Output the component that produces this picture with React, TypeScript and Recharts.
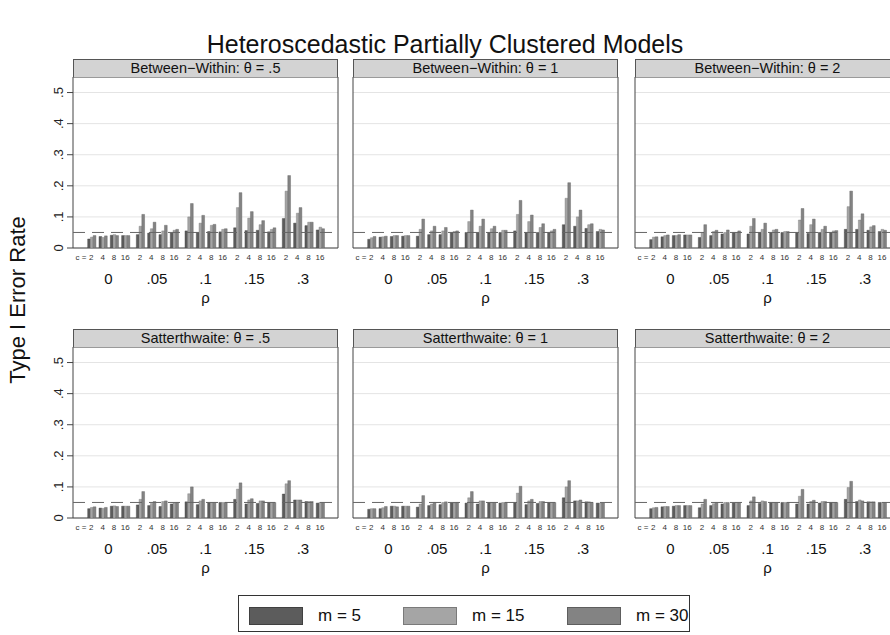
import React from 'react';
import { BarChart, Bar, XAxis, YAxis, CartesianGrid, ReferenceLine, ReferenceArea } from 'recharts';

// ---- categories / labels ----
const rhoLabels = ['0', '.05', '.1', '.15', '.3'];
const cLabels = ['2', '4', '8', '16'];
const yTicks = [0, 0.1, 0.2, 0.3, 0.4, 0.5];
const seriesNames = ['m = 5', 'm = 15', 'm = 30'];
const panelTitles = [
  'Between\u2212Within: \u03B8 = .5',
  'Between\u2212Within: \u03B8 = 1',
  'Between\u2212Within: \u03B8 = 2',
  'Satterthwaite: \u03B8 = .5',
  'Satterthwaite: \u03B8 = 1',
  'Satterthwaite: \u03B8 = 2',
];

// ---- values: order = rho (0,.05,.1,.15,.3) x c (2,4,8,16) ----
const bw05_m5 = [0.029, 0.037, 0.041, 0.040, 0.043, 0.048, 0.043, 0.048, 0.055, 0.050, 0.053, 0.052, 0.065, 0.056, 0.057, 0.052, 0.095, 0.080, 0.072, 0.058];
const bw05_m15 = [0.035, 0.034, 0.043, 0.040, 0.070, 0.062, 0.055, 0.057, 0.100, 0.080, 0.073, 0.060, 0.130, 0.096, 0.075, 0.060, 0.183, 0.112, 0.083, 0.067];
const bw05_m30 = [0.040, 0.039, 0.040, 0.040, 0.108, 0.083, 0.073, 0.060, 0.143, 0.105, 0.076, 0.062, 0.178, 0.117, 0.088, 0.065, 0.233, 0.130, 0.083, 0.062];

const bw1_m5 = [0.028, 0.035, 0.037, 0.038, 0.038, 0.043, 0.043, 0.050, 0.050, 0.048, 0.050, 0.050, 0.055, 0.050, 0.050, 0.050, 0.075, 0.070, 0.063, 0.053];
const bw1_m15 = [0.033, 0.036, 0.040, 0.040, 0.060, 0.055, 0.055, 0.053, 0.085, 0.070, 0.062, 0.057, 0.108, 0.085, 0.066, 0.055, 0.160, 0.100, 0.075, 0.060];
const bw1_m30 = [0.037, 0.038, 0.040, 0.040, 0.093, 0.070, 0.066, 0.055, 0.122, 0.093, 0.070, 0.057, 0.153, 0.106, 0.078, 0.060, 0.210, 0.122, 0.078, 0.058];

const bw2_m5 = [0.027, 0.036, 0.040, 0.042, 0.034, 0.040, 0.045, 0.050, 0.045, 0.050, 0.050, 0.050, 0.050, 0.047, 0.050, 0.050, 0.060, 0.060, 0.057, 0.053];
const bw2_m15 = [0.035, 0.040, 0.040, 0.042, 0.050, 0.053, 0.050, 0.050, 0.070, 0.060, 0.058, 0.053, 0.090, 0.075, 0.060, 0.055, 0.133, 0.090, 0.068, 0.060];
const bw2_m30 = [0.036, 0.042, 0.043, 0.042, 0.075, 0.057, 0.058, 0.055, 0.095, 0.080, 0.060, 0.053, 0.127, 0.093, 0.070, 0.056, 0.183, 0.110, 0.072, 0.057];

const sw05_m5 = [0.030, 0.032, 0.038, 0.038, 0.042, 0.040, 0.037, 0.045, 0.052, 0.043, 0.050, 0.050, 0.060, 0.045, 0.047, 0.050, 0.077, 0.058, 0.053, 0.048];
const sw05_m15 = [0.034, 0.031, 0.039, 0.038, 0.060, 0.047, 0.053, 0.048, 0.078, 0.055, 0.050, 0.050, 0.093, 0.058, 0.055, 0.050, 0.110, 0.058, 0.053, 0.050];
const sw05_m30 = [0.036, 0.034, 0.037, 0.038, 0.085, 0.053, 0.055, 0.050, 0.100, 0.060, 0.050, 0.050, 0.113, 0.062, 0.055, 0.050, 0.120, 0.058, 0.053, 0.050];

const sw1_m5 = [0.028, 0.030, 0.038, 0.038, 0.035, 0.040, 0.043, 0.048, 0.048, 0.045, 0.050, 0.048, 0.050, 0.043, 0.047, 0.050, 0.065, 0.055, 0.052, 0.048];
const sw1_m15 = [0.030, 0.033, 0.038, 0.038, 0.045, 0.045, 0.050, 0.048, 0.065, 0.055, 0.050, 0.050, 0.080, 0.055, 0.053, 0.050, 0.100, 0.055, 0.052, 0.048];
const sw1_m30 = [0.030, 0.037, 0.036, 0.038, 0.072, 0.050, 0.052, 0.050, 0.085, 0.055, 0.050, 0.050, 0.102, 0.060, 0.053, 0.050, 0.120, 0.058, 0.050, 0.048];

const sw2_m5 = [0.030, 0.036, 0.038, 0.040, 0.033, 0.040, 0.045, 0.048, 0.040, 0.047, 0.050, 0.050, 0.045, 0.045, 0.048, 0.050, 0.060, 0.053, 0.052, 0.050];
const sw2_m15 = [0.033, 0.037, 0.040, 0.040, 0.045, 0.046, 0.050, 0.050, 0.055, 0.055, 0.050, 0.050, 0.070, 0.053, 0.053, 0.050, 0.098, 0.058, 0.052, 0.050];
const sw2_m30 = [0.034, 0.037, 0.040, 0.040, 0.060, 0.050, 0.050, 0.050, 0.068, 0.053, 0.050, 0.050, 0.092, 0.057, 0.053, 0.050, 0.118, 0.055, 0.052, 0.050];

const nominalAlpha = 0.05;

// ---- styling / layout ----
const COLORS = ['#5c5c5c', '#a5a5a5', '#838383'];
const STROKES = ['#404040', '#7a7a7a', '#5e5e5e'];
const FONT = '"Liberation Sans", Arial, Helvetica, sans-serif';
const GROUP_STEP = 4.3; // distance between rho groups, in cluster units
const X_DOMAIN: [number, number] = [-1.62, 4 * GROUP_STEP + 3 + 1.6];
const PW = 265;
const PH = 171;
const HEADER_H = 18;
const YW = 45;
const C_AXIS_H = 18;
const RHO_AXIS_H = 42;
const COLS = [73, 353, 635];
const ROWS = [59, 329];

const fmtY = (v: number) => (v === 0 ? '0' : String(Math.round(v * 10) / 10).replace(/^0/, ''));

const YTick = (props: any) => {
  const { x, y, payload } = props;
  return (
    <g transform={`translate(${x - 2},${y}) rotate(-90)`}>
      <text textAnchor="middle" fontSize={13} fill="#222" fontFamily={FONT}>
        {fmtY(payload.value)}
      </text>
    </g>
  );
};

const CTick = (props: any) => {
  const { x, y, index } = props;
  return (
    <g>
      {index === 0 && (
        <text x={x - 5} y={y + 9} textAnchor="end" dominantBaseline="central" fontSize={8} fill="#333" fontFamily={FONT}>
          c =
        </text>
      )}
      <text x={x} y={y + 9} textAnchor="middle" dominantBaseline="central" fontSize={8} fill="#333" fontFamily={FONT}>
        {cLabels[index % cLabels.length]}
      </text>
    </g>
  );
};

const RhoTick = (props: any) => {
  const { x, y, index } = props;
  return (
    <text x={x} y={y + 12} textAnchor="middle" dominantBaseline="central" fontSize={15} fill="#111" fontFamily={FONT}>
      {rhoLabels[index]}
    </text>
  );
};

const cTickPositions: number[] = [];
rhoLabels.forEach((_, r) => cLabels.forEach((__, c) => cTickPositions.push(r * GROUP_STEP + c)));
const rhoTickPositions = rhoLabels.map((_, r) => r * GROUP_STEP + (cLabels.length - 1) / 2);

function buildRows(m5: number[], m15: number[], m30: number[]) {
  const rows: any[] = [];
  rhoLabels.forEach((rho, r) => {
    cLabels.forEach((c, ci) => {
      const i = r * cLabels.length + ci;
      rows.push({ pos: r * GROUP_STEP + ci, rho, c, m5: m5[i], m15: m15[i], m30: m30[i] });
    });
  });
  return rows;
}

type PanelProps = { title: string; col: number; row: number; m5: number[]; m15: number[]; m30: number[] };

const Panel = ({ title, col, row, m5, m15, m30 }: PanelProps) => {
  const x0 = COLS[col];
  const top = ROWS[row];
  const showY = col === 0;
  const data = buildRows(m5, m15, m30);
  return (
    <>
      <div
        style={{
          position: 'absolute',
          left: x0,
          top,
          width: PW,
          height: HEADER_H,
          boxSizing: 'border-box',
          background: '#d3d3d3',
          border: '1px solid #555',
          borderBottom: 'none',
          fontFamily: FONT,
          fontSize: 14.5,
          lineHeight: `${HEADER_H - 1}px`,
          textAlign: 'center',
          color: '#111',
          whiteSpace: 'nowrap',
        }}
      >
        {title}
      </div>
      <div style={{ position: 'absolute', left: x0 - YW, top: top + HEADER_H }}>
        <BarChart
          width={YW + PW + 6}
          height={PH + C_AXIS_H + RHO_AXIS_H}
          data={data}
          margin={{ top: 0, right: 6, bottom: 0, left: showY ? 0 : YW }}
          barGap={0}
          barSize={2.75}
        >
          <CartesianGrid vertical={false} stroke="#e4e4e4" />
          <XAxis
            xAxisId={0}
            dataKey="pos"
            type="number"
            domain={X_DOMAIN}
            allowDataOverflow
            ticks={cTickPositions}
            interval={0}
            tick={<CTick />}
            tickLine={false}
            axisLine={false}
            tickSize={0}
            tickMargin={0}
            height={C_AXIS_H}
          />
          <XAxis
            xAxisId="rho"
            dataKey="pos"
            type="number"
            domain={X_DOMAIN}
            allowDataOverflow
            ticks={rhoTickPositions}
            interval={0}
            tick={<RhoTick />}
            tickLine={false}
            axisLine={false}
            tickSize={0}
            tickMargin={0}
            height={RHO_AXIS_H}
            label={{ value: '\u03C1', position: 'insideBottom', offset: 5, fontSize: 15, fill: '#111', fontFamily: FONT }}
          />
          <YAxis
            type="number"
            domain={[0, 0.55]}
            allowDataOverflow
            ticks={yTicks}
            interval={0}
            hide={!showY}
            width={YW}
            axisLine={false}
            tickLine={{ stroke: '#444' }}
            tickSize={6}
            tickMargin={2}
            tick={<YTick />}
          />
          <ReferenceLine y={nominalAlpha} stroke="#666" strokeDasharray="12 7" strokeWidth={1} />
          <Bar dataKey="m5" name={seriesNames[0]} fill={COLORS[0]} stroke={STROKES[0]} strokeWidth={0.4} isAnimationActive={false} />
          <Bar dataKey="m15" name={seriesNames[1]} fill={COLORS[1]} stroke={STROKES[1]} strokeWidth={0.4} isAnimationActive={false} />
          <Bar dataKey="m30" name={seriesNames[2]} fill={COLORS[2]} stroke={STROKES[2]} strokeWidth={0.4} isAnimationActive={false} />
          <ReferenceArea
            x1={X_DOMAIN[0]}
            x2={X_DOMAIN[1]}
            y1={0}
            y2={0.55}
            fill="none"
            fillOpacity={0}
            stroke="#444"
            strokeWidth={1}
          />
        </BarChart>
      </div>
    </>
  );
};

const panels = [
  { m5: bw05_m5, m15: bw05_m15, m30: bw05_m30 },
  { m5: bw1_m5, m15: bw1_m15, m30: bw1_m30 },
  { m5: bw2_m5, m15: bw2_m15, m30: bw2_m30 },
  { m5: sw05_m5, m15: sw05_m15, m30: sw05_m30 },
  { m5: sw1_m5, m15: sw1_m15, m30: sw1_m30 },
  { m5: sw2_m5, m15: sw2_m15, m30: sw2_m30 },
];

const legendSwatchX = [249, 403, 567];

export default function App() {
  return (
    <div
      style={{
        position: 'absolute',
        left: 0,
        top: 0,
        width: 890,
        height: 635,
        overflow: 'hidden',
        background: '#fff',
        fontFamily: FONT,
      }}
    >
      <div
        style={{
          position: 'absolute',
          left: 0,
          top: 29,
          width: 890,
          textAlign: 'center',
          fontSize: 25,
          lineHeight: '30px',
          color: '#111',
        }}
      >
        Heteroscedastic Partially Clustered Models
      </div>
      <div
        style={{
          position: 'absolute',
          left: 18 - 110,
          top: 300 - 14,
          width: 220,
          height: 28,
          lineHeight: '28px',
          textAlign: 'center',
          fontSize: 22,
          color: '#111',
          transform: 'rotate(-90deg)',
          whiteSpace: 'nowrap',
        }}
      >
        Type I Error Rate
      </div>
      {panels.map((p, i) => (
        <Panel key={i} title={panelTitles[i]} col={i % 3} row={Math.floor(i / 3)} m5={p.m5} m15={p.m15} m30={p.m30} />
      ))}
      <div
        style={{
          position: 'absolute',
          left: 238,
          top: 595,
          width: 452,
          height: 37,
          boxSizing: 'border-box',
          border: '1px solid #333',
        }}
      />
      {seriesNames.map((name, i) => (
        <React.Fragment key={name}>
          <div
            style={{
              position: 'absolute',
              left: legendSwatchX[i],
              top: 607,
              width: 54,
              height: 18,
              boxSizing: 'border-box',
              background: COLORS[i],
              border: `1px solid ${STROKES[i]}`,
            }}
          />
          <div
            style={{
              position: 'absolute',
              left: legendSwatchX[i] + 69,
              top: 606,
              height: 20,
              lineHeight: '20px',
              fontSize: 17,
              color: '#111',
              whiteSpace: 'nowrap',
            }}
          >
            {name}
          </div>
        </React.Fragment>
      ))}
    </div>
  );
}
